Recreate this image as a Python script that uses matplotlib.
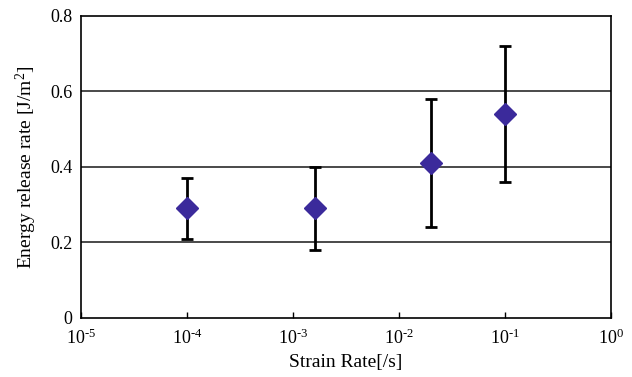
import matplotlib
matplotlib.use("Agg")
import math
import matplotlib.pyplot as plt
from matplotlib.ticker import FixedLocator, FuncFormatter, NullLocator

plt.rcParams['font.family'] = ['Liberation Serif', 'DejaVu Serif']
plt.rcParams['mathtext.fontset'] = 'custom'
plt.rcParams['mathtext.rm'] = 'Liberation Serif'
plt.rcParams['mathtext.it'] = 'Liberation Serif'
plt.rcParams['mathtext.default'] = 'regular'
plt.rcParams['axes.unicode_minus'] = False

strain_rate = [1e-4, 1.6e-3, 2e-2, 1e-1]
energy = [0.29, 0.29, 0.41, 0.54]
err_low = [0.21, 0.18, 0.24, 0.36]
err_high = [0.37, 0.40, 0.58, 0.72]

x_ticks = [1e-5, 1e-4, 1e-3, 1e-2, 1e-1, 1e0]
y_ticks = [0, 0.2, 0.4, 0.6, 0.8]

fig = plt.figure(figsize=(6.32, 3.77), dpi=100)
ax = fig.add_axes([0.128, 0.157, 0.839, 0.801])

ax.set_xscale('log')
ax.set_xlim(1e-5, 1e0)
ax.set_ylim(0, 0.8)

for yv in y_ticks[1:-1]:
    ax.axhline(yv, color='#2a2a2a', lw=1.2, zorder=1)

yerr = [[e - l for e, l in zip(energy, err_low)], [h - e for e, h in zip(energy, err_high)]]
ax.errorbar(strain_rate, energy, yerr=yerr, fmt='none', ecolor='black',
            elinewidth=2, capsize=4, capthick=2, zorder=2)
ax.plot(strain_rate, energy, linestyle='none', marker='D', markersize=11,
        color='#3B2A9B', markeredgecolor='#3B2A9B', zorder=3)

ax.xaxis.set_major_locator(FixedLocator(x_ticks))
ax.xaxis.set_minor_locator(NullLocator())

def fmt_x(v, pos):
    e = int(round(math.log10(v)))
    return r'$10^{%s}$' % ('\u2010%d' % (-e) if e < 0 else '%d' % e)
ax.xaxis.set_major_formatter(FuncFormatter(fmt_x))

ax.set_yticks(y_ticks)
ax.set_yticklabels(['0', '0.2', '0.4', '0.6', '0.8'])

ax.tick_params(axis='x', direction='in', length=4, width=1, labelsize=13, pad=8)
ax.tick_params(axis='y', length=0, labelsize=13, pad=6)

for s in ax.spines.values():
    s.set_linewidth(1.2)
    s.set_color('black')

ax.set_xlabel('Strain Rate[/s]', fontsize=14, labelpad=4)
ax.set_ylabel(r'Energy release rate [J/m$^2$]', fontsize=14, labelpad=8)

fig.savefig('out.png', dpi=100)
